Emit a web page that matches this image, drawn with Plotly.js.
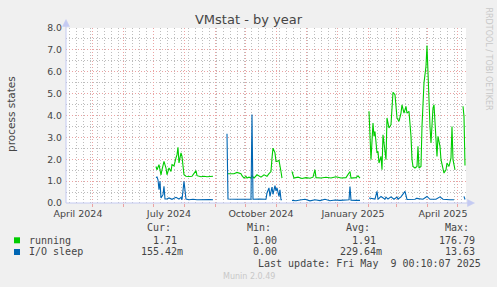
<!DOCTYPE html>
<html>
<head>
<meta charset="utf-8">
<script src="https://cdn.plot.ly/plotly-3.0.1.min.js"></script>
<style>
  html, body { margin: 0; padding: 0; background: #F0F0F0; }
  #chart { width: 497px; height: 287px; }
</style>
</head>
<body>
<div id="chart"></div>
<script>
// ---------------- data ----------------
const runningDates = [
  '2024-07-03','2024-07-04','2024-07-06','2024-07-08','2024-07-09','2024-07-11','2024-07-13','2024-07-14',
  '2024-07-16','2024-07-18','2024-07-19','2024-07-21','2024-07-23','2024-07-24','2024-07-25','2024-07-26',
  '2024-07-28','2024-07-29','2024-07-31','2024-08-02','2024-08-05','2024-08-08','2024-08-12','2024-08-13',
  '2024-08-17','2024-08-20','2024-08-23','2024-08-27','2024-08-29','2024-09-05',
  '2024-09-12','2024-09-16','2024-09-19','2024-09-22','2024-09-26','2024-09-27','2024-09-29','2024-10-01',
  '2024-10-02','2024-10-04','2024-10-06','2024-10-07','2024-10-09','2024-10-12','2024-10-16','2024-10-19',
  '2024-10-22','2024-10-24','2024-10-26','2024-10-27','2024-10-28','2024-10-30','2024-10-31','2024-11-01',
  '2024-11-03','2024-11-05','2024-11-06','2024-11-11',
  '2024-11-16','2024-11-18','2024-11-22','2024-11-26','2024-11-30','2024-12-04','2024-12-07','2024-12-09',
  '2024-12-10','2024-12-15','2024-12-20','2024-12-25','2024-12-30','2025-01-04','2025-01-09','2025-01-13',
  '2025-01-14','2025-01-19','2025-01-21','2025-01-23','2025-01-27',
  '2025-02-01','2025-02-02','2025-02-03','2025-02-05','2025-02-06','2025-02-07','2025-02-09','2025-02-10',
  '2025-02-11','2025-02-13','2025-02-14','2025-02-15','2025-02-17','2025-02-18','2025-02-19','2025-02-21',
  '2025-02-23','2025-02-24','2025-02-25','2025-02-27','2025-02-28','2025-03-01','2025-03-03','2025-03-05',
  '2025-03-06','2025-03-08','2025-03-10','2025-03-11','2025-03-13','2025-03-15','2025-03-16','2025-03-17',
  '2025-03-19','2025-03-21','2025-03-22','2025-03-23','2025-03-25','2025-03-26','2025-03-28','2025-03-30',
  '2025-03-31','2025-04-01','2025-04-03','2025-04-04','2025-04-06','2025-04-07','2025-04-09','2025-04-10',
  '2025-04-11','2025-04-13','2025-04-14','2025-04-15','2025-04-17','2025-04-19','2025-04-20','2025-04-22',
  '2025-04-24','2025-04-25','2025-04-26','2025-04-28','2025-05-02',
  '2025-05-06','2025-05-07','2025-05-08'
];
const runningValues = [
  1.67,1.52,1.75,1.29,1.52,1.90,1.60,1.29,
  1.60,1.44,1.75,1.70,2.06,2.20,2.55,1.83,
  2.29,2.13,1.29,1.22,1.21,1.22,1.48,1.25,
  1.20,1.22,1.20,1.22,1.22,null,
  1.34,1.35,1.34,1.40,1.34,1.25,1.14,1.22,
  1.14,1.18,1.14,1.25,1.14,1.29,1.18,1.29,
  1.22,1.34,1.44,2.06,2.51,2.29,1.90,1.90,
  1.95,1.44,1.14,null,
  1.44,1.14,1.18,1.12,1.16,1.13,1.18,1.52,
  1.16,1.14,1.18,1.14,1.20,1.14,1.16,1.44,
  1.14,1.16,1.24,1.14,null,
  4.19,2.74,1.98,3.66,3.05,3.27,2.29,2.36,
  1.83,2.13,1.52,3.12,2.29,1.98,3.89,3.43,
  3.58,4.42,5.06,4.95,4.27,3.89,3.73,4.11,
  4.49,4.11,4.42,4.11,4.19,3.05,1.98,1.67,
  1.60,1.67,2.59,1.60,1.67,3.50,5.49,6.25,
  7.20,5.64,3.50,2.74,4.34,4.49,2.97,2.13,
  3.05,2.59,1.98,1.75,1.37,1.52,1.83,1.67,
  2.06,3.50,1.98,1.52,null,
  4.42,3.96,1.71
];

const sleepDates = [
  '2024-07-03','2024-07-04','2024-07-05','2024-07-06','2024-07-07','2024-07-08','2024-07-10','2024-07-11',
  '2024-07-12','2024-07-14','2024-07-16','2024-07-19','2024-07-23','2024-07-26','2024-07-28','2024-07-29',
  '2024-07-31','2024-08-02','2024-08-05','2024-08-09','2024-08-13','2024-08-17','2024-08-22','2024-08-26',
  '2024-08-29','2024-09-05',
  '2024-09-12','2024-09-13','2024-09-21','2024-09-29','2024-10-06','2024-10-07','2024-10-08','2024-10-14',
  '2024-10-21','2024-10-22','2024-10-24','2024-10-25','2024-10-27','2024-10-28','2024-10-30','2024-10-31',
  '2024-11-01','2024-11-03','2024-11-04','2024-11-05','2024-11-06','2024-11-11',
  '2024-11-16','2024-11-20','2024-11-24','2024-11-29','2024-12-04','2024-12-09','2024-12-14','2024-12-19',
  '2024-12-24','2024-12-29','2025-01-03','2025-01-08','2025-01-12','2025-01-13','2025-01-14','2025-01-19',
  '2025-01-23','2025-01-27',
  '2025-02-01','2025-02-04','2025-02-07','2025-02-09','2025-02-10','2025-02-13','2025-02-17','2025-02-18',
  '2025-02-20','2025-02-23','2025-02-26','2025-03-01','2025-03-02','2025-03-05','2025-03-09','2025-03-11',
  '2025-03-14','2025-03-19','2025-03-21','2025-03-22','2025-03-27','2025-03-31','2025-04-03','2025-04-09',
  '2025-04-13','2025-04-16','2025-04-23','2025-04-27','2025-05-02',
  '2025-05-07','2025-05-08'
];
const sleepValues = [
  1.17,1.19,1.06,0.61,0.99,0.23,0.38,0.76,
  0.18,0.18,0.23,0.17,0.26,0.18,0.26,0.15,
  0.99,0.18,0.15,0.17,0.15,0.16,0.15,0.16,
  0.15,null,
  3.17,0.18,0.17,0.18,0.17,4.04,0.17,0.18,
  0.17,0.46,0.69,0.30,0.73,0.40,0.79,0.55,
  0.69,0.30,0.60,0.15,0.15,null,
  0.12,0.10,0.14,0.17,0.10,0.15,0.11,0.17,
  0.10,0.14,0.12,0.13,0.15,0.75,0.13,0.12,
  0.12,null,
  0.23,0.20,0.18,0.53,0.17,0.30,0.17,0.27,
  0.18,0.28,0.17,0.27,0.18,0.28,0.53,0.16,
  0.17,0.17,0.22,0.20,0.17,0.30,0.17,0.17,
  0.28,0.17,0.15,0.15,null,
  0.30,0.16
];

const monthLabelDates = ['2024-04-16','2024-07-16','2024-10-16','2025-01-16','2025-04-16'];
const monthLabelTexts = ['April 2024','July 2024','October 2024','January 2025','April 2025'];

const seriesNames = ['running', 'I/O sleep'];
const curText = ['1.71', '155.42m'];
const minText = ['1.00', '0.00'];
const avgText = ['1.91', '229.64m'];
const maxText = ['176.79', '13.63'];

// ---------------- styles / geometry ----------------
const COLORS = ['#00CC00', '#0066B3'];
const MGRID = '#EBA3A3';
const GRID = '#BDBDBD';
const AXIS = '#C4CAF2';
const TXT = '#454545';
const NB = '\u00a0';
const DOTS = '1px,2px';

const L = 66, T = 28, W = 400, H = 175;         // plot area in px
const px = x => (x - L) / W;                     // px -> paper x
const py = y => (T + H - y) / H;                 // px -> paper y

const traces = [
  { x: runningDates, y: runningValues, type: 'scatter', mode: 'lines', connectgaps: false,
    line: { color: COLORS[0], width: 1.1 }, hoverinfo: 'skip' },
  { x: sleepDates, y: sleepValues, type: 'scatter', mode: 'lines', connectgaps: false,
    line: { color: COLORS[1], width: 1.1 }, hoverinfo: 'skip' },
  { x: [monthLabelDates[0]], y: [null], xaxis: 'x2', type: 'scatter', mode: 'lines', hoverinfo: 'skip' },
  { x: [monthLabelDates[0]], y: [null], xaxis: 'x3', type: 'scatter', mode: 'lines', hoverinfo: 'skip' }
];

const padVal = v => /[a-zA-Z]$/.test(v) ? v : v + NB;
const mono = { family: 'DejaVu Sans Mono', size: 10, color: TXT };

const annotations = [];
annotations.push({ text: 'process states', xref: 'paper', yref: 'paper', x: px(11), y: py(114),
  showarrow: false, textangle: -90, font: { family: 'DejaVu Sans', size: 10.5, color: TXT },
  xanchor: 'center', yanchor: 'middle' });
annotations.push({ text: 'RRDTOOL / TOBI OETIKER', xref: 'paper', yref: 'paper', x: px(488), y: py(5),
  showarrow: false, textangle: 90, font: { family: 'DejaVu Sans', size: 8, color: '#C8C8C8' },
  xanchor: 'center', yanchor: 'top' });
const colRight = [185, 285, 384, 483];
const headers = ['Cur:', 'Min:', 'Avg:', 'Max:'];
headers.forEach((h, i) => annotations.push({ text: h + NB + NB, xref: 'paper', yref: 'paper',
  x: px(colRight[i]), y: py(227.7), showarrow: false, xanchor: 'right', yanchor: 'middle', font: mono }));
const rowY = [240, 251.7];
seriesNames.forEach((name, r) => {
  annotations.push({ text: name, xref: 'paper', yref: 'paper', x: px(26.5), y: py(rowY[r]),
    showarrow: false, xanchor: 'left', yanchor: 'middle', font: mono });
  [curText, minText, avgText, maxText].forEach((arr, c) => annotations.push({
    text: padVal(arr[r]), xref: 'paper', yref: 'paper', x: px(colRight[c]), y: py(rowY[r]),
    showarrow: false, xanchor: 'right', yanchor: 'middle', font: mono }));
});
annotations.push({ text: 'Last update: Fri May' + NB + NB + '9 00:10:07 2025', xref: 'paper', yref: 'paper',
  x: px(482.5), y: py(263.3), showarrow: false, xanchor: 'right', yanchor: 'middle', font: mono });
annotations.push({ text: 'Munin 2.0.49', xref: 'paper', yref: 'paper', x: px(248.5), y: py(276.7),
  showarrow: false, xanchor: 'center', yanchor: 'middle',
  font: { family: 'DejaVu Sans', size: 8, color: '#C8C8C8' } });

const shapes = [
  { type: 'line', xref: 'paper', yref: 'paper', x0: px(66), x1: px(66), y0: py(203), y1: py(24),
    line: { color: AXIS, width: 1 } },
  { type: 'line', xref: 'paper', yref: 'paper', x0: px(66), x1: px(471), y0: py(203), y1: py(203),
    line: { color: AXIS, width: 1 } },
  { type: 'path', xref: 'paper', yref: 'paper', fillcolor: AXIS, line: { color: AXIS, width: 0.5 },
    path: `M ${px(62.5)} ${py(26.5)} L ${px(66)} ${py(19.5)} L ${px(69.5)} ${py(26.5)} Z` },
  { type: 'path', xref: 'paper', yref: 'paper', fillcolor: AXIS, line: { color: AXIS, width: 0.5 },
    path: `M ${px(467.5)} ${py(199.5)} L ${px(474.5)} ${py(203)} L ${px(467.5)} ${py(206.5)} Z` },
  { type: 'rect', xref: 'paper', yref: 'paper', x0: px(14), x1: px(20), y0: py(237.3), y1: py(243.3),
    fillcolor: COLORS[0], line: { width: 0 } },
  { type: 'rect', xref: 'paper', yref: 'paper', x0: px(14), x1: px(20), y0: py(249), y1: py(255),
    fillcolor: COLORS[1], line: { width: 0 } }
];

const xRange = ['2024-04-04 00:10', '2025-05-09 00:10'];

const layout = {
  width: 497, height: 287,
  margin: { l: L, r: 497 - L - W, t: T, b: 287 - T - H, pad: 0 },
  paper_bgcolor: '#F0F0F0', plot_bgcolor: '#FFFFFF',
  showlegend: false,
  font: { family: 'DejaVu Sans', color: TXT },
  title: { text: 'VMstat - by year', x: px(248.5), xref: 'paper', xanchor: 'center',
    y: 1 - 19 / 287, yref: 'container', yanchor: 'middle',
    font: { family: 'DejaVu Sans', size: 13, color: TXT } },
  // weekly minor grid
  xaxis: {
    type: 'date', range: xRange, fixedrange: true,
    tickmode: 'linear', tick0: '2024-04-08', dtick: 7 * 86400000,
    showticklabels: false, showgrid: true, gridcolor: GRID, gridwidth: 1, griddash: DOTS,
    ticks: '', showline: false, zeroline: false
  },
  // monthly major grid
  xaxis2: {
    type: 'date', range: xRange, overlaying: 'x', anchor: 'y', side: 'bottom', fixedrange: true,
    tickmode: 'linear', tick0: '2024-05-01', dtick: 'M1',
    showticklabels: false, showgrid: true, gridcolor: MGRID, gridwidth: 1, griddash: DOTS,
    ticks: 'outside', ticklen: 3, tickcolor: MGRID, tickwidth: 1,
    showline: false, zeroline: false
  },
  // month labels
  xaxis3: {
    type: 'date', range: xRange, overlaying: 'x', anchor: 'y', side: 'bottom', fixedrange: true,
    tickmode: 'array', tickvals: monthLabelDates, ticktext: monthLabelTexts,
    showgrid: false, ticks: '', showline: false, zeroline: false, ticklabelstandoff: 3,
    tickfont: { family: 'DejaVu Sans', size: 9.5, color: TXT }
  },
  yaxis: {
    range: [0, 8], fixedrange: true, tickmode: 'linear', tick0: 0, dtick: 1, tickformat: '.1f',
    showgrid: true, gridcolor: MGRID, gridwidth: 1, griddash: DOTS,
    zeroline: false, showline: false, ticks: '', ticklabelstandoff: 3,
    tickfont: { family: 'DejaVu Sans', size: 9.3, color: TXT },
    minor: { tickmode: 'linear', tick0: 0, dtick: 0.5, showgrid: true, gridcolor: GRID,
      gridwidth: 1, griddash: DOTS, ticks: '' }
  },
  annotations: annotations,
  shapes: shapes
};

Plotly.newPlot('chart', traces, layout, { staticPlot: true, displayModeBar: false });
</script>
</body>
</html>
